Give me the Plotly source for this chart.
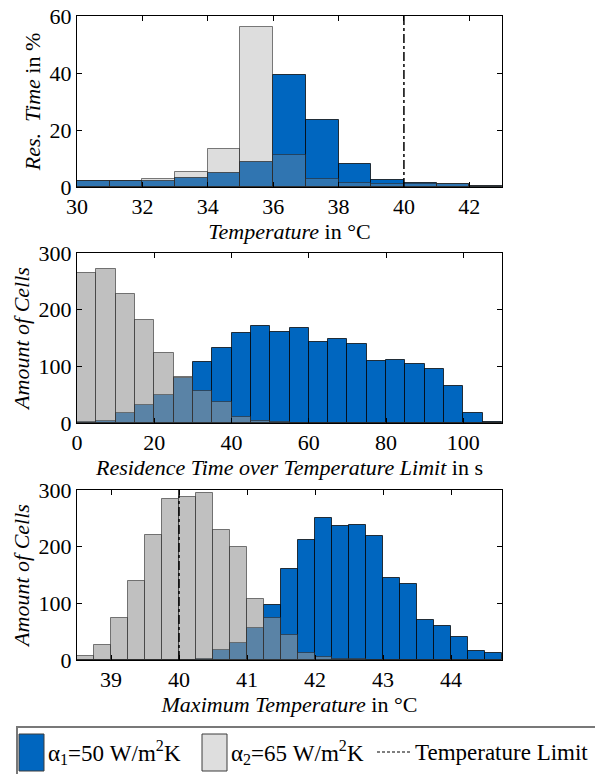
import plotly.graph_objects as go
from plotly.subplots import make_subplots

# top: residence time share per temperature bin (%), bins of 1 degC starting at 30
temp_bins = [30, 31, 32, 33, 34, 35, 36, 37, 38, 39, 40, 41, 42]
res_a1 = [2.1, 2.1, 2.2, 3.0, 4.9, 8.6, 39.2, 23.4, 7.9, 2.4, 1.5, 1.2, 0.5]
res_a2 = [2.1, 2.1, 2.8, 5.3, 13.4, 56.3, 11.2, 2.8, 1.5, 1.2, 1.0, 0.9, 0.5]

# middle: residence time over limit (s), bins of 5 s starting at 0
time_bins = [0, 5, 10, 15, 20, 25, 30, 35, 40, 45, 50, 55, 60, 65, 70, 75, 80, 85, 90, 95, 100, 105]
cells_time_a1 = [1, 3, 18, 32, 49, 79, 107, 133, 158, 172, 161, 167, 143, 149, 139, 110, 112, 105, 95, 66, 18, 2]
cells_time_a2 = [265, 272, 228, 181, 124, 81, 56, 37, 11, 3, 1, 0, 0, 0, 0, 0, 0, 0, 0, 0, 0, 0]

# bottom: maximum temperature (degC), bins of 0.25 starting at 38.5
tmax_bins = [38.5, 38.75, 39.0, 39.25, 39.5, 39.75, 40.0, 40.25, 40.5, 40.75, 41.0, 41.25,
             41.5, 41.75, 42.0, 42.25, 42.5, 42.75, 43.0, 43.25, 43.5, 43.75, 44.0, 44.25, 44.5]
cells_tmax_a1 = [0, 0, 0, 0, 0, 0, 0, 1, 17, 30, 56, 97, 161, 211, 251, 236, 239, 218,
                 144, 134, 70, 60, 40, 16, 13]
cells_tmax_a2 = [7, 26, 75, 139, 220, 285, 288, 294, 229, 199, 107, 74, 45, 12, 5, 1, 1, 0,
                 0, 0, 0, 0, 0, 0, 0]

temp_limit = 40

legend_names = ["α<sub>1</sub>=50 W/m<sup>2</sup>K", "α<sub>2</sub>=65 W/m<sup>2</sup>K", "Temperature Limit"]

BLUE = "rgb(0,102,191)"
GRAY_LEG = "rgb(222,222,222)"
FONT = "Times New Roman, Liberation Serif, serif"

# page has an 8px body margin, so the figure is a bit smaller than the window
OFF = 8
W, H = 603 - OFF, 774 - OFF
L, R, T, B = 77 - OFF, 101, 16 - OFF, 114


def px(x):
    # window pixel -> paper x
    return (x - OFF - L) / (W - L - R)


def py(y):
    # window pixel -> paper y
    return (H - B - (y - OFF)) / (H - T - B)


fig = make_subplots(rows=3, cols=1)

panels = [
    (temp_bins, 1, res_a1, res_a2, 0.32),
    (time_bins, 5, cells_time_a1, cells_time_a2, 0.6),
    (tmax_bins, 0.25, cells_tmax_a1, cells_tmax_a2, 0.6),
]
for i, (bins, w, a1, a2, alpha) in enumerate(panels):
    row = i + 1
    fig.add_trace(go.Bar(x=bins, y=a1, width=w, offset=0, name=legend_names[0],
                         marker=dict(color=BLUE, line=dict(color="rgba(0,0,0,0.75)", width=1))),
                  row=row, col=1)
    fig.add_trace(go.Bar(x=bins, y=a2, width=w, offset=0, name=legend_names[1],
                         marker=dict(color=f"rgba(150,150,150,{alpha})",
                                     line=dict(color="rgba(40,40,40,0.6)", width=1))),
                  row=row, col=1)

fig.add_trace(go.Scatter(x=[temp_limit, temp_limit], y=[0, 60], mode="lines", name=legend_names[2],
                         line=dict(color="black", width=1.5, dash="dashdot")), row=1, col=1)
fig.add_trace(go.Scatter(x=[temp_limit, temp_limit], y=[0, 300], mode="lines",
                         line=dict(color="black", width=1.5, dash="dashdot")), row=3, col=1)

ax = dict(showline=True, mirror="ticks", linecolor="black", linewidth=1, ticks="inside",
          ticklen=5, tickcolor="black", showgrid=False, zeroline=False, automargin=False,
          ticklabeloverflow="allow",
          tickfont=dict(family=FONT, size=22, color="black"),
          title_font=dict(family=FONT, size=22, color="black"))

fig.update_xaxes(**ax)
fig.update_yaxes(**ax)

fig.update_xaxes(range=[30, 43], dtick=2, title_text="<i>Temperature</i> in °C", title_standoff=0, row=1, col=1)
fig.update_yaxes(range=[0, 60], dtick=20, title_text="<i>Res.  Time</i> in %", title_standoff=2,
                 domain=[py(187), py(16)], row=1, col=1)
fig.update_xaxes(range=[0, 110], dtick=20, title_text="<i>Residence Time over Temperature Limit</i> in s",
                 title_standoff=0, row=2, col=1)
fig.update_yaxes(range=[0, 300], dtick=100, title_text="<i>Amount of Cells</i>", title_standoff=2,
                 domain=[py(423), py(253)], row=2, col=1)
fig.update_xaxes(range=[38.5, 44.75], dtick=1, title_text="<i>Maximum Temperature</i> in °C",
                 title_standoff=0, row=3, col=1)
fig.update_yaxes(range=[0, 300], dtick=100, title_text="<i>Amount of Cells</i>", title_standoff=2,
                 domain=[py(660), py(490)], row=3, col=1)

# hand-made legend box at the bottom, like the original figure
shapes = [
    dict(type="rect", xref="paper", yref="paper", x0=px(17), x1=px(610), y0=py(780), y1=py(727),
         line=dict(color="rgb(120,120,120)", width=2), fillcolor="white", layer="above"),
    dict(type="rect", xref="paper", yref="paper", x0=px(19), x1=px(44), y0=py(771), y1=py(734),
         line=dict(color="rgb(60,60,60)", width=1), fillcolor=BLUE),
    dict(type="rect", xref="paper", yref="paper", x0=px(202), x1=px(227), y0=py(771), y1=py(734),
         line=dict(color="rgb(60,60,60)", width=1), fillcolor=GRAY_LEG),
    dict(type="line", xref="paper", yref="paper", x0=px(377), x1=px(412), y0=py(752), y1=py(752),
         line=dict(color="black", width=1.2, dash="3px,2px")),
]
annotations = [
    dict(text=legend_names[0], x=px(46), y=py(752)),
    dict(text=legend_names[1], x=px(229), y=py(752)),
    dict(text=legend_names[2], x=px(413), y=py(752)),
]
for a in annotations:
    a.update(xref="paper", yref="paper", xanchor="left", yanchor="middle", showarrow=False,
             font=dict(family=FONT, size=23, color="black"))

fig.update_layout(
    width=W, height=H,
    margin=dict(l=L, r=R, t=T, b=B),
    barmode="overlay", bargap=0,
    plot_bgcolor="white", paper_bgcolor="white",
    font=dict(family=FONT, size=22, color="black"),
    showlegend=False,
    shapes=shapes, annotations=annotations,
)

fig.write_html("out.html")
